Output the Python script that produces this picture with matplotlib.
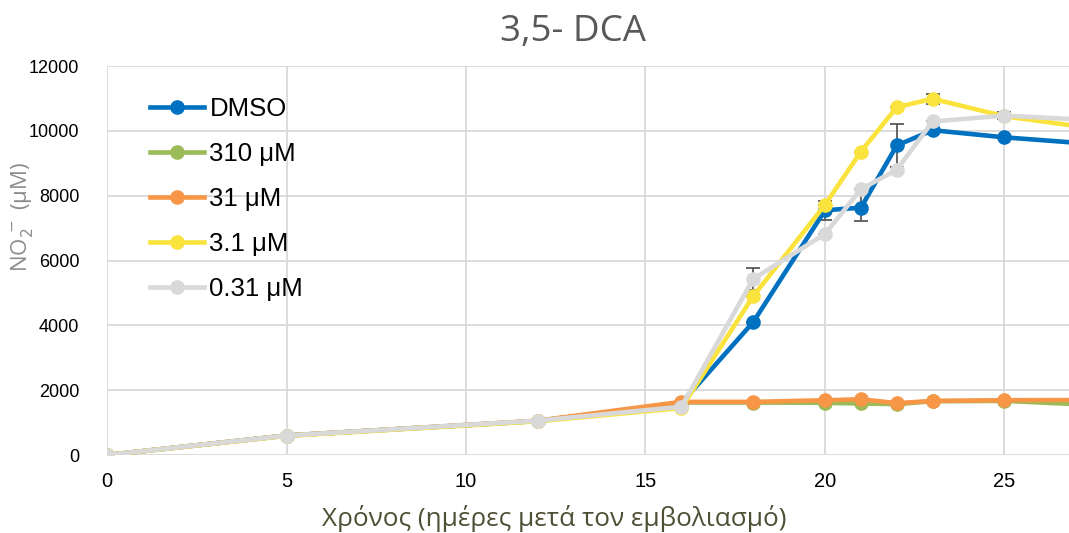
import matplotlib
matplotlib.use("Agg")
import matplotlib.pyplot as plt
import numpy as np

# ------- DATA -------
days = [0, 5, 12, 16, 18, 20, 21, 22, 23, 25, 28]

labels = ["DMSO", "310 μM", "31 μM", "3.1 μM", "0.31 μM"]
dmso = [0, 600, 1050, 1600, 4100, 7550, 7630, 9550, 10020, 9800, 9550]
c310 = [0, 600, 1050, 1620, 1620, 1610, 1590, 1570, 1660, 1670, 1520]
c31 = [0, 600, 1060, 1640, 1640, 1690, 1720, 1600, 1670, 1690, 1700]
c3_1 = [0, 590, 1040, 1450, 4900, 7720, 9360, 10730, 10990, 10450, 10000]
c0_31 = [0, 600, 1060, 1490, 5430, 6820, 8200, 8800, 10290, 10470, 10300]

# standard deviations (only a few visible)
err_dmso = [0, 0, 0, 0, 0, 300, 400, 650, 0, 0, 0]
err_c3_1 = [0, 0, 0, 0, 0, 0, 0, 0, 150, 0, 0]
err_c0_31 = [0, 0, 0, 0, 330, 0, 0, 100, 0, 100, 0]
err_none = [0] * len(days)

series = [dmso, c310, c31, c3_1, c0_31]
errors = [err_dmso, err_none, err_none, err_c3_1, err_c0_31]
colors = ["#0070C0", "#9BBB59", "#F79646", "#FAE33C", "#D9D9D9"]

# ------- PLOT -------
fig = plt.figure(figsize=(10.69, 5.33), dpi=100)
ax = fig.add_axes([0.1001, 0.1463, 0.9, 0.7298])

handles = []
for vals, err, col, lab in zip(series, errors, colors, labels):
    eb = ax.errorbar(days, vals, yerr=err, color=col, lw=3.3, marker="o", ms=9.5,
                     ecolor="#595959", elinewidth=1.3, capsize=5, capthick=1.3,
                     label=lab)
    handles.append(eb[0])

ax.set_xlim(0, 26.8)
ax.set_ylim(0, 12000)
ax.set_xticks(np.arange(0, 26, 5))
ax.set_yticks(np.arange(0, 12001, 2000))
ax.grid(True, color="#D9D9D9", lw=1.3)
ax.set_axisbelow(True)
for sp in ax.spines.values():
    sp.set_visible(False)
ax.tick_params(axis="y", length=0, labelsize=13, pad=20)
ax.tick_params(axis="x", length=0, labelsize=14.5, pad=12)
for t in ax.get_xticklabels() + ax.get_yticklabels():
    t.set_fontfamily("Liberation Sans")

fig.text(0.536, 1 - 32 / 533, "3,5- DCA", fontsize=26.5, color="#595959",
         family="Open Sans", ha="center", va="center")
fig.text(554 / 1069, 1 - 519 / 533, "Χρόνος (ημέρες μετά τον εμβολιασμό)",
         fontsize=18.8, color="#4F4F36", family="Open Sans",
         ha="center", va="center")
fig.text(22 / 1069, 1 - 217 / 533, r"NO$_2^{\,-}$ (μM)", fontsize=16,
         color="#8C8C8C", family="Open Sans", rotation=90,
         ha="center", va="center")

leg = ax.legend(handles, labels, loc="upper left",
                bbox_to_anchor=(0.021, 0.98), frameon=False,
                prop={"family": "Liberation Sans", "size": 18.5},
                handlelength=2.1, handletextpad=0.2, labelspacing=0.82)

fig.savefig("out.png", dpi=100)
